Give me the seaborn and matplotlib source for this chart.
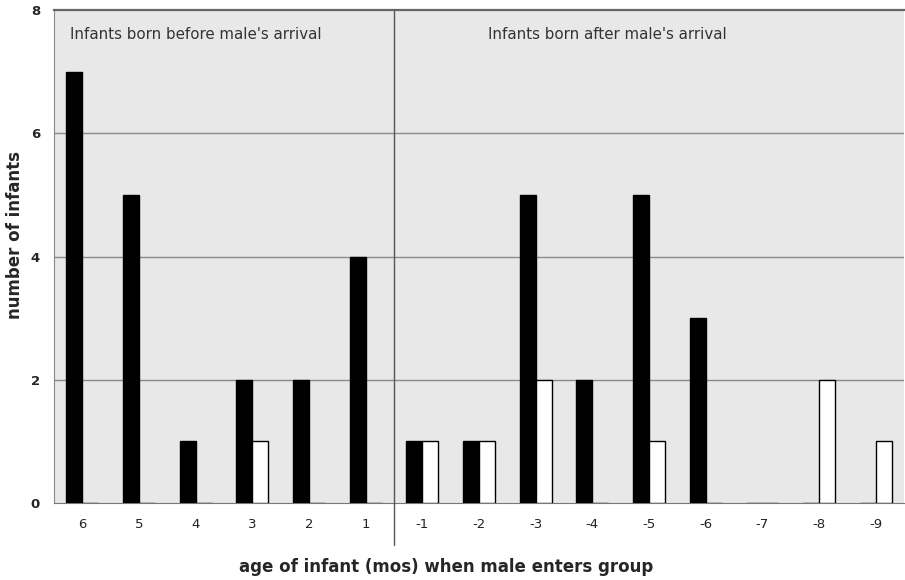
import numpy as np
import pandas as pd
import matplotlib
matplotlib.use("Agg")
import matplotlib.pyplot as plt
import seaborn as sns

# data
ages = ["6", "5", "4", "3", "2", "1", "-1", "-2", "-3", "-4", "-5", "-6", "-7", "-8", "-9"]
black_counts = [7, 5, 1, 2, 2, 4, 1, 1, 5, 2, 5, 3, 0, 0, 0]
white_counts = [0, 0, 0, 1, 0, 0, 1, 1, 2, 0, 1, 0, 0, 2, 1]
groups = ["black", "white"]
panel_labels = ["Infants born before male's arrival", "Infants born after male's arrival"]

df = pd.DataFrame({
    "age": ages * 2,
    "count": black_counts + white_counts,
    "group": [groups[0]] * len(ages) + [groups[1]] * len(ages),
})

sns.set_style("white")
plt.rcParams["font.family"] = ["DejaVu Sans"]

fig = plt.figure(figsize=(9.05, 5.8), dpi=100)
ax = fig.add_axes([54 / 905, 1 - 503 / 580, 850 / 905, 493 / 580])
ax.set_facecolor("#e8e8e8")

sns.barplot(data=df, x="age", y="count", hue="group", order=ages, hue_order=groups,
            palette={"black": "black", "white": "white"}, edgecolor="black",
            linewidth=1, width=0.57, ax=ax, legend=False, zorder=3)

ax.set_xlim(-0.5, len(ages) - 0.5)
ax.set_ylim(0, 8)
ax.set_yticks([0, 2, 4, 6, 8])
for y in [2, 4, 6]:
    ax.axhline(y, color="#8a8a8a", lw=1, zorder=1)

# tick styling
ax.tick_params(axis="x", which="major", length=0, pad=11, labelsize=9.5, colors="#222222")
ax.set_xticks(np.arange(len(ages) + 1) - 0.5, minor=True)
ax.tick_params(axis="x", which="minor", length=4, direction="out", color="#777777")
ax.tick_params(axis="y", length=4, direction="out", color="#777777", pad=6, labelsize=9.5)
for lab in ax.get_yticklabels():
    lab.set_fontweight("bold")

ax.spines["right"].set_visible(False)
ax.spines["top"].set_color("#666666")
ax.spines["top"].set_linewidth(1.6)
ax.spines["left"].set_color("#888888")
ax.spines["bottom"].set_color("#777777")

# divider between before / after arrival
ax.plot([5.5, 5.5], [-0.085, 1.0], color="#555555", lw=1,
        transform=ax.get_xaxis_transform(), clip_on=False, zorder=4)

ax.text(0.019, 0.95, panel_labels[0], transform=ax.transAxes, fontsize=10.8,
        color="#333333", ha="left", va="center")
ax.text(0.651, 0.95, panel_labels[1], transform=ax.transAxes, fontsize=10.8,
        color="#333333", ha="center", va="center")

ax.set_xlabel("")
ax.set_ylabel("")
fig.text(446 / 905, 1 - 567 / 580, "age of infant (mos) when male enters group",
         fontsize=12, fontweight="bold", ha="center", va="center")
fig.text(15 / 905, 1 - 235 / 580, "number of infants", rotation=90,
         fontsize=12, fontweight="bold", ha="center", va="center")

fig.savefig("out.png", dpi=100)
